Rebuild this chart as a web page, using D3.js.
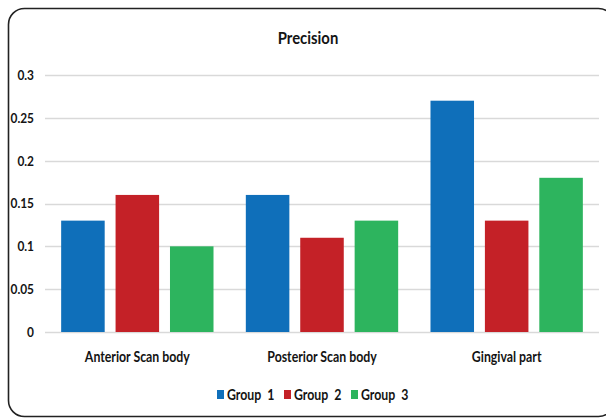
<!DOCTYPE html>
<html>
<head>
<meta charset="utf-8">
<script src="https://cdn.jsdelivr.net/npm/d3@7"></script>
<style>
  html, body { margin: 0; padding: 0; background: #ffffff; }
  svg { display: block; }
  text { font-family: Lato, "Open Sans", sans-serif; font-weight: bold; fill: #141414; }
</style>
</head>
<body>
<svg id="chart" width="606" height="419"></svg>
<script>
// Chart data
const categories = ["Anterior Scan body", "Posterior Scan body", "Gingival part"];
const seriesNames = ["Group  1", "Group  2", "Group  3"];
const group1 = [0.13, 0.16, 0.27];
const group2 = [0.16, 0.11, 0.13];
const group3 = [0.10, 0.13, 0.18];
const yTicks = [0, 0.05, 0.1, 0.15, 0.2, 0.25, 0.3];
const yTickLabels = ["0", "0.05", "0.1", "0.15", "0.2", "0.25", "0.3"];
const colors = ["#0F6FBA", "#C42127", "#2DB45E"];

const series = [group1, group2, group3];
const FONT = "Lato, 'Open Sans', sans-serif";
const NARROW = 0.85; // horizontal squeeze for a condensed look

// Squeeze text horizontally around its own anchor point
function narrow(sel, s = NARROW) {
  sel.each(function () {
    const t = d3.select(this);
    const x = +(t.attr("x") || 0);
    t.attr("x", x / s).attr("transform", `scale(${s},1)`);
  });
}

const svg = d3.select("#chart");
const W = 606, H = 419;
const margin = { left: 45, right: 7, top: 75, bottom: 87 };
const plotW = W - margin.left - margin.right;
const plotH = H - margin.top - margin.bottom;

// Outer frame with rounded corners
svg.append("rect")
  .attr("x", 8.5).attr("y", 8.5)
  .attr("width", 606).attr("height", 408)
  .attr("rx", 16).attr("ry", 16)
  .attr("fill", "#ffffff")
  .attr("stroke", "#222222")
  .attr("stroke-width", 1.6);

const g = svg.append("g").attr("transform", `translate(${margin.left},${margin.top})`);

const y = d3.scaleLinear().domain([0, 0.3]).range([plotH, 0]);
const x0 = d3.scaleBand().domain(categories).range([0, plotW]).paddingInner(0.175).paddingOuter(0.0875);
const x1 = d3.scaleBand().domain(d3.range(series.length)).range([0, x0.bandwidth()]).paddingInner(0.2).paddingOuter(0);

// Gridlines
g.append("g")
  .selectAll("line")
  .data(yTicks)
  .join("line")
  .attr("x1", 0).attr("x2", plotW)
  .attr("y1", d => Math.round(y(d)) + 0.5).attr("y2", d => Math.round(y(d)) + 0.5)
  .attr("stroke", "#d9d9d9")
  .attr("stroke-width", 1.5);

// Y axis labels
const yAxis = d3.axisLeft(y).tickValues(yTicks)
  .tickFormat((d, i) => yTickLabels[i]).tickSize(0).tickPadding(11);
const ya = g.append("g").call(yAxis);
ya.select(".domain").remove();
ya.selectAll("text")
  .style("font-family", FONT)
  .style("font-weight", "bold")
  .style("font-size", "14px")
  .attr("fill", "#141414")
  .call(narrow);

// Bars
const groups = g.append("g")
  .selectAll("g")
  .data(categories)
  .join("g")
  .attr("transform", d => `translate(${x0(d)},0)`);

groups.selectAll("rect")
  .data((d, ci) => series.map((s, si) => ({ si, v: s[ci] })))
  .join("rect")
  .attr("x", d => x1(d.si))
  .attr("width", x1.bandwidth())
  .attr("y", d => y(d.v))
  .attr("height", d => plotH - y(d.v))
  .attr("fill", d => colors[d.si]);

// Category labels
const xAxis = d3.axisBottom(x0).tickSize(0).tickPadding(20);
const xa = g.append("g").attr("transform", `translate(0,${plotH})`).call(xAxis);
xa.select(".domain").remove();
xa.selectAll("text")
  .style("font-family", FONT)
  .style("font-weight", "bold")
  .style("font-size", "14.5px")
  .attr("fill", "#141414")
  .call(narrow);

// Title
svg.append("text")
  .attr("x", 308).attr("y", 44)
  .attr("text-anchor", "middle")
  .style("font-size", "17.5px")
  .text("Precision")
  .call(narrow);

// Legend
const legendX = [217, 284, 351];
const legend = svg.append("g").attr("transform", "translate(0,395)");
const items = legend.selectAll("g").data(seriesNames).join("g")
  .attr("transform", (d, i) => `translate(${legendX[i]},0)`);
items.append("rect")
  .attr("x", 0).attr("y", -5).attr("width", 7).attr("height", 9)
  .attr("fill", (d, i) => colors[i]);
items.append("text")
  .attr("x", 10).attr("y", 5)
  .style("font-size", "14.5px")
  .style("white-space", "pre")
  .attr("xml:space", "preserve")
  .text(d => d)
  .call(narrow);
</script>
</body>
</html>
